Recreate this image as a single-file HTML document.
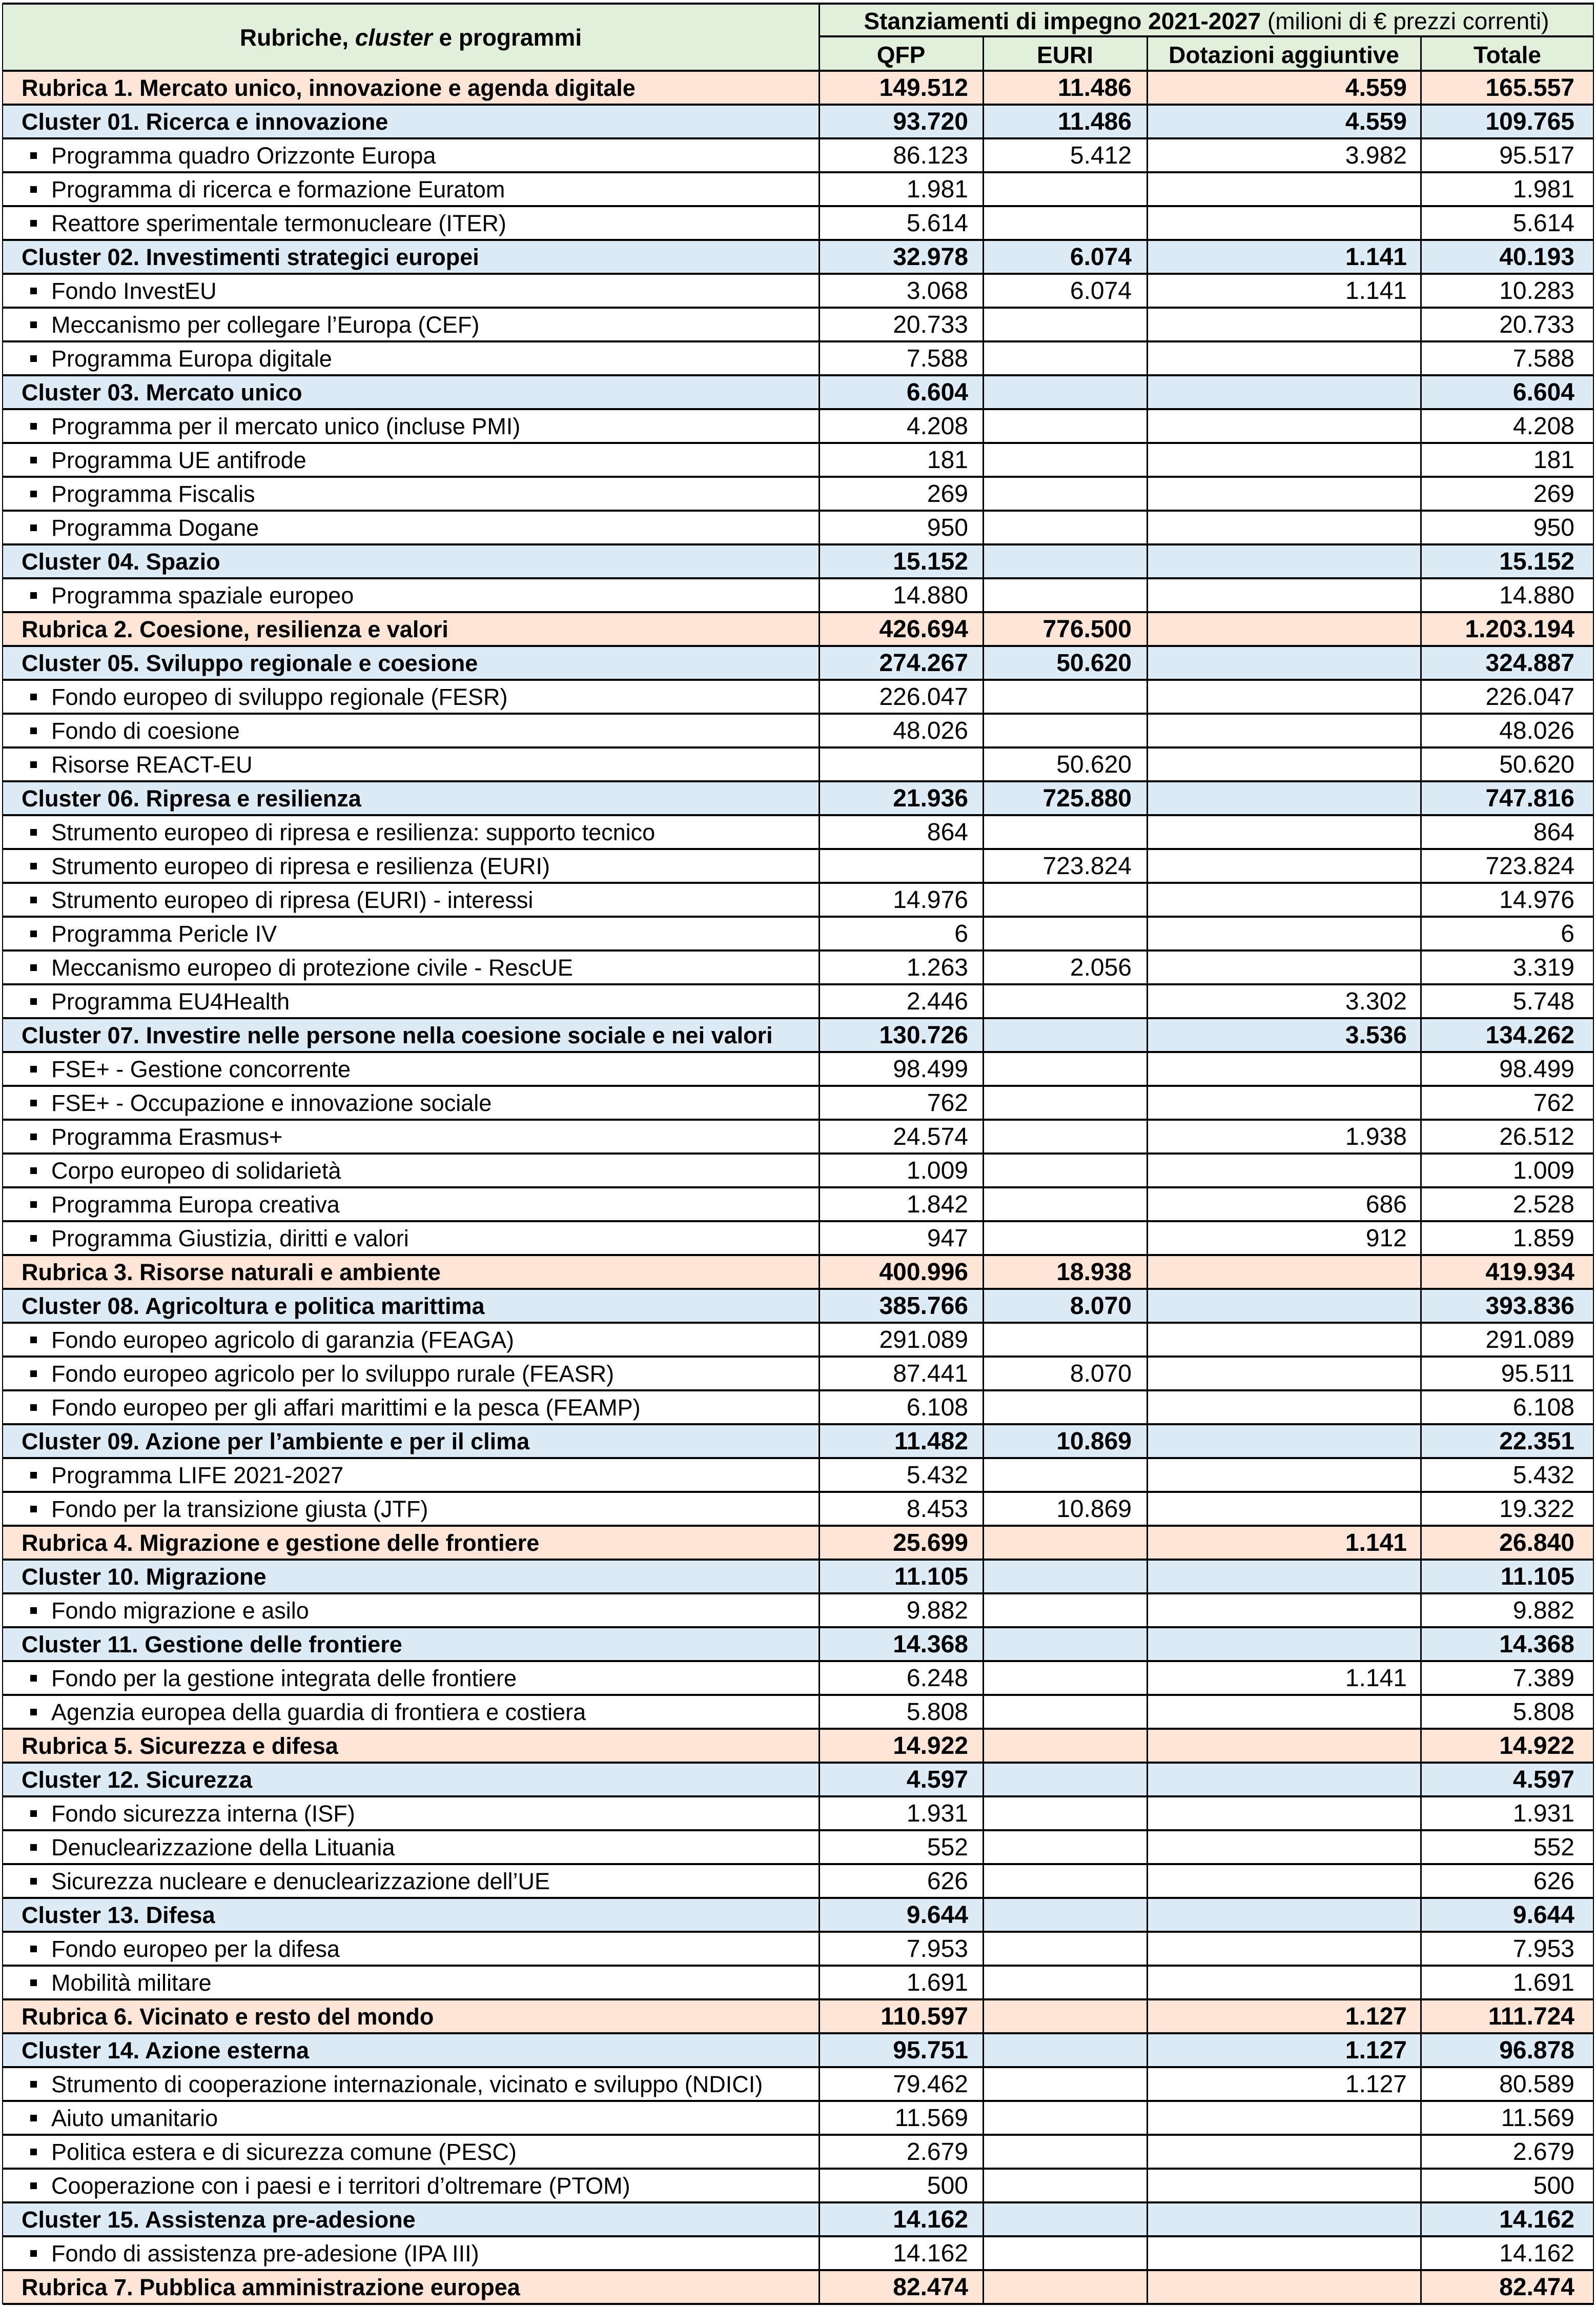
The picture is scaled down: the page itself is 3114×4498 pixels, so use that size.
<!DOCTYPE html>
<html><head><meta charset="utf-8">
<style>
html,body{margin:0;padding:0;background:#fff;}
body{width:3114px;height:4498px;position:relative;overflow:hidden;font-family:"Liberation Sans",sans-serif;color:#000;}
.row{position:absolute;left:5px;width:3105px;height:66px;}
.R{background:#FCE4D6;font-weight:bold;}
.C{background:#DDEBF7;font-weight:bold;}
.P{background:#fff;}
.lab{position:absolute;left:37px;top:0;height:66px;line-height:68px;font-size:45px;white-space:nowrap;}
.P .lab{left:95px;}
.P .lab::before{content:"";position:absolute;left:-41px;top:27px;width:13px;height:13px;background:#000;}
.n{position:absolute;top:0;height:66px;line-height:68px;font-size:48px;text-align:right;white-space:nowrap;}
.n1{right:calc(3105px - 1884px);}
.n2{right:calc(3105px - 2203px);}
.n3{right:calc(3105px - 2740px);}
.n4{right:38px;}
.h{position:absolute;left:5px;width:3105px;height:4px;background:#000;z-index:5;}
.v{position:absolute;width:3px;background:#000;z-index:6;}
.hdr{position:absolute;background:#E2EFDA;}
.ht{position:absolute;text-align:center;font-size:46px;white-space:nowrap;}
</style></head><body>
<div class="hdr" style="left:5px;top:6px;width:3105px;height:132px;"></div>
<div class="ht" style="left:5px;width:1593px;top:6px;height:132px;line-height:134px;font-weight:bold;">Rubriche, <i>cluster</i> e programmi</div>
<div class="ht" style="left:1598px;width:1512px;top:6px;height:65px;line-height:70px;"><b>Stanziamenti di impegno 2021-2027</b> (milioni di € prezzi correnti)</div>
<div class="ht" style="left:1598px;width:320px;top:71px;height:67px;line-height:72px;font-weight:bold;">QFP</div>
<div class="ht" style="left:1918px;width:320px;top:71px;height:67px;line-height:72px;font-weight:bold;">EURI</div>
<div class="ht" style="left:2238px;width:534px;top:71px;height:67px;line-height:72px;font-weight:bold;">Dotazioni aggiuntive</div>
<div class="ht" style="left:2772px;width:338px;top:71px;height:67px;line-height:72px;font-weight:bold;">Totale</div>

<div class="v" style="left:1597px;top:6px;height:4488px"></div>
<div class="v" style="left:1917px;top:71px;height:4423px"></div>
<div class="v" style="left:2237px;top:71px;height:4423px"></div>
<div class="v" style="left:2771px;top:71px;height:4423px"></div>
<div class="v" style="left:4px;top:6px;height:4488px;width:2px"></div>
<div class="v" style="left:3108px;top:6px;height:4488px;width:2px"></div>

<div id="rows"></div>
<script>
var d=[
["R","Rubrica 1. Mercato unico, innovazione e agenda digitale","149.512","11.486","4.559","165.557"],
["C","Cluster 01. Ricerca e innovazione","93.720","11.486","4.559","109.765"],
["P","Programma quadro Orizzonte Europa","86.123","5.412","3.982","95.517"],
["P","Programma di ricerca e formazione Euratom","1.981","","","1.981"],
["P","Reattore sperimentale termonucleare (ITER)","5.614","","","5.614"],
["C","Cluster 02. Investimenti strategici europei","32.978","6.074","1.141","40.193"],
["P","Fondo InvestEU","3.068","6.074","1.141","10.283"],
["P","Meccanismo per collegare l’Europa (CEF)","20.733","","","20.733"],
["P","Programma Europa digitale","7.588","","","7.588"],
["C","Cluster 03. Mercato unico","6.604","","","6.604"],
["P","Programma per il mercato unico (incluse PMI)","4.208","","","4.208"],
["P","Programma UE antifrode","181","","","181"],
["P","Programma Fiscalis","269","","","269"],
["P","Programma Dogane","950","","","950"],
["C","Cluster 04. Spazio","15.152","","","15.152"],
["P","Programma spaziale europeo","14.880","","","14.880"],
["R","Rubrica 2. Coesione, resilienza e valori","426.694","776.500","","1.203.194"],
["C","Cluster 05. Sviluppo regionale e coesione","274.267","50.620","","324.887"],
["P","Fondo europeo di sviluppo regionale (FESR)","226.047","","","226.047"],
["P","Fondo di coesione","48.026","","","48.026"],
["P","Risorse REACT-EU","","50.620","","50.620"],
["C","Cluster 06. Ripresa e resilienza","21.936","725.880","","747.816"],
["P","Strumento europeo di ripresa e resilienza: supporto tecnico","864","","","864"],
["P","Strumento europeo di ripresa e resilienza (EURI)","","723.824","","723.824"],
["P","Strumento europeo di ripresa (EURI) - interessi","14.976","","","14.976"],
["P","Programma Pericle IV","6","","","6"],
["P","Meccanismo europeo di protezione civile - RescUE","1.263","2.056","","3.319"],
["P","Programma EU4Health","2.446","","3.302","5.748"],
["C","Cluster 07. Investire nelle persone nella coesione sociale e nei valori","130.726","","3.536","134.262"],
["P","FSE+ - Gestione concorrente","98.499","","","98.499"],
["P","FSE+ - Occupazione e innovazione sociale","762","","","762"],
["P","Programma Erasmus+","24.574","","1.938","26.512"],
["P","Corpo europeo di solidarietà","1.009","","","1.009"],
["P","Programma Europa creativa","1.842","","686","2.528"],
["P","Programma Giustizia, diritti e valori","947","","912","1.859"],
["R","Rubrica 3. Risorse naturali e ambiente","400.996","18.938","","419.934"],
["C","Cluster 08. Agricoltura e politica marittima","385.766","8.070","","393.836"],
["P","Fondo europeo agricolo di garanzia (FEAGA)","291.089","","","291.089"],
["P","Fondo europeo agricolo per lo sviluppo rurale (FEASR)","87.441","8.070","","95.511"],
["P","Fondo europeo per gli affari marittimi e la pesca (FEAMP)","6.108","","","6.108"],
["C","Cluster 09. Azione per l’ambiente e per il clima","11.482","10.869","","22.351"],
["P","Programma LIFE 2021-2027","5.432","","","5.432"],
["P","Fondo per la transizione giusta (JTF)","8.453","10.869","","19.322"],
["R","Rubrica 4. Migrazione e gestione delle frontiere","25.699","","1.141","26.840"],
["C","Cluster 10. Migrazione","11.105","","","11.105"],
["P","Fondo migrazione e asilo","9.882","","","9.882"],
["C","Cluster 11. Gestione delle frontiere","14.368","","","14.368"],
["P","Fondo per la gestione integrata delle frontiere","6.248","","1.141","7.389"],
["P","Agenzia europea della guardia di frontiera e costiera","5.808","","","5.808"],
["R","Rubrica 5. Sicurezza e difesa","14.922","","","14.922"],
["C","Cluster 12. Sicurezza","4.597","","","4.597"],
["P","Fondo sicurezza interna (ISF)","1.931","","","1.931"],
["P","Denuclearizzazione della Lituania","552","","","552"],
["P","Sicurezza nucleare e denuclearizzazione dell’UE","626","","","626"],
["C","Cluster 13. Difesa","9.644","","","9.644"],
["P","Fondo europeo per la difesa","7.953","","","7.953"],
["P","Mobilità militare","1.691","","","1.691"],
["R","Rubrica 6. Vicinato e resto del mondo","110.597","","1.127","111.724"],
["C","Cluster 14. Azione esterna","95.751","","1.127","96.878"],
["P","Strumento di cooperazione internazionale, vicinato e sviluppo (NDICI)","79.462","","1.127","80.589"],
["P","Aiuto umanitario","11.569","","","11.569"],
["P","Politica estera e di sicurezza comune (PESC)","2.679","","","2.679"],
["P","Cooperazione con i paesi e i territori d’oltremare (PTOM)","500","","","500"],
["C","Cluster 15. Assistenza pre-adesione","14.162","","","14.162"],
["P","Fondo di assistenza pre-adesione (IPA III)","14.162","","","14.162"],
["R","Rubrica 7. Pubblica amministrazione europea","82.474","","","82.474"]
];
var h="";
for(var i=0;i<d.length;i++){
 var r=d[i],t=138+66*i;
 h+='<div class="row '+r[0]+'" style="top:'+t+'px"><div class="lab">'+r[1]+'</div>';
 for(var k=1;k<=4;k++) if(r[k+1]) h+='<div class="n n'+k+'">'+r[k+1]+'</div>';
 h+='</div>';
}
for(var i=0;i<=d.length;i++){h+='<div class="h" style="top:'+(136+66*i)+'px"></div>';}
h+='<div class="h" style="top:5px"></div><div class="h" style="top:69px;left:1598px;width:1512px"></div>';
document.getElementById("rows").innerHTML=h;
</script>
</body></html>
